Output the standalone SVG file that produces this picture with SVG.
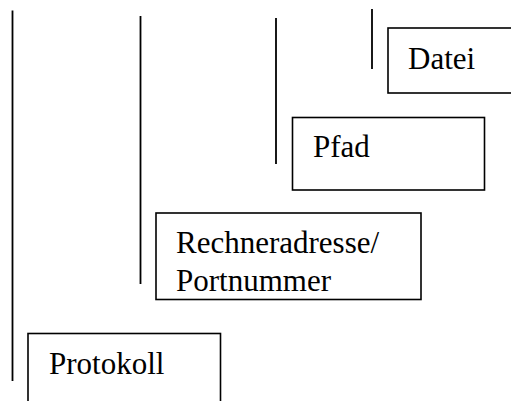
<svg xmlns="http://www.w3.org/2000/svg" width="511" height="401" viewBox="0 0 511 401">
<style>
.box{fill:none;stroke:#000;stroke-width:1.6}
.ln{stroke:#000;stroke-width:1.8;fill:none}
.t{font-family:"Liberation Serif","Times New Roman",serif;font-size:31px;fill:#000}
</style>
<rect width="511" height="401" fill="#fff"/>
<g id="connectors">
<line class="ln" x1="12.5" y1="10.5" x2="12.5" y2="381"/>
<line class="ln" x1="140.5" y1="16" x2="140.5" y2="284"/>
<line class="ln" x1="276" y1="18" x2="276" y2="164"/>
<line class="ln" x1="372" y1="9" x2="372" y2="69"/>
</g>
<g id="datei">
<rect class="box" x="388" y="28" width="126" height="65"/>
<text class="t" x="408" y="69">Datei</text>
</g>
<g id="pfad">
<rect class="box" x="292.5" y="117.5" width="192" height="72.5"/>
<text class="t" x="313" y="156.5">Pfad</text>
</g>
<g id="rechneradresse">
<rect class="box" x="156" y="213" width="265" height="86.5"/>
<text class="t" x="176" y="253">Rechneradresse/</text>
<text class="t" x="176" y="290.5">Portnummer</text>
</g>
<g id="protokoll">
<rect class="box" x="28" y="333.5" width="192.5" height="80"/>
<text class="t" x="49" y="374">Protokoll</text>
</g>
</svg>
